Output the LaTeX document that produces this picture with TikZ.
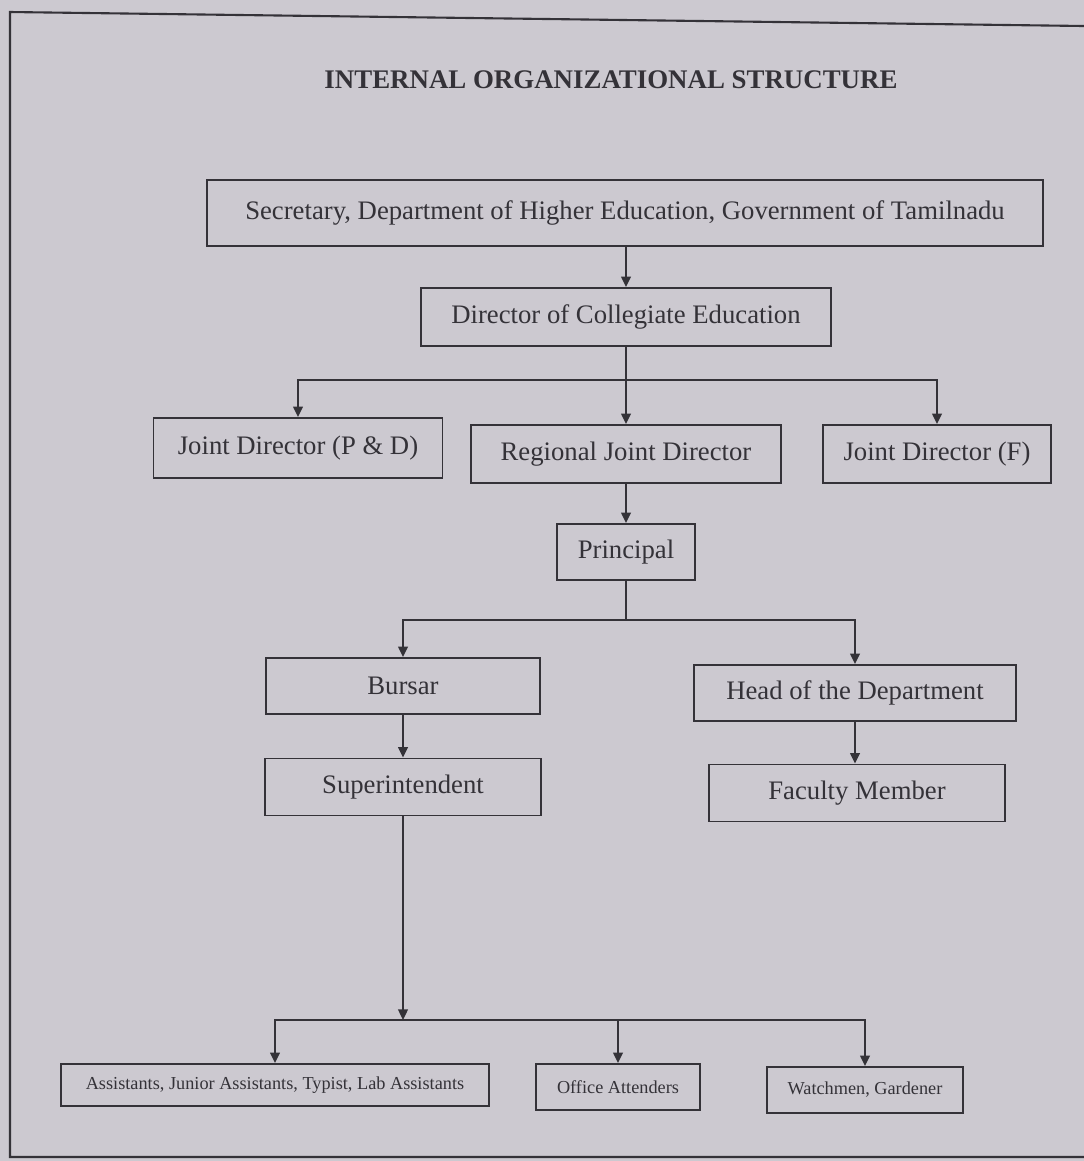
\documentclass[tikz,border=0pt]{standalone}
\usepackage{fontspec}
\setmainfont{Liberation Serif}
\usetikzlibrary{arrows.meta}
\definecolor{paper}{RGB}{204,201,208}
\definecolor{ink}{RGB}{52,50,56}
\tikzset{
  box/.style={draw=ink, line width=1.1pt, inner sep=0pt, text=ink, font=\fontsize{15.2}{18}\selectfont},
  smallbox/.style={box, font=\fontsize{10.4}{12}\selectfont},
  link/.style={draw=ink, line width=1.1pt},
  arr/.style={link, -{Triangle[length=6pt,width=5.5pt]}},
}

\begin{document}
\begin{tikzpicture}[x=0.02cm, y=-0.02cm]
\fill[paper] (0,0) rectangle (1084,1161);
\useasboundingbox (0,0) rectangle (1084,1161);
% page frame
\draw[ink, line width=1.2pt] (1084,26) -- (10,12) -- (10,1157) -- (1084,1157);

\node[text=ink, font=\fontsize{15.3}{18}\selectfont\bfseries] (title) at (611,80) {INTERNAL ORGANIZATIONAL STRUCTURE};

\node[box, minimum width=16.74cm, minimum height=1.32cm] (sec) at (625,213) {Secretary, Department of Higher Education, Government of Tamilnadu};
\node[box, minimum width=8.22cm, minimum height=1.16cm] (dir) at (626,317) {Director of Collegiate Education};

\node[box, minimum width=5.78cm, minimum height=1.2cm] (jdpd) at (298,448) {Joint Director (P \& D)};
\node[box, minimum width=6.2cm, minimum height=1.16cm] (rjd) at (626,454) {Regional Joint Director};
\node[box, minimum width=4.56cm, minimum height=1.16cm] (jdf) at (937,454) {Joint Director (F)};

\node[box, minimum width=2.76cm, minimum height=1.12cm] (prin) at (626,552) {Principal};

\node[box, minimum width=5.48cm, minimum height=1.12cm] (burs) at (403,686) {Bursar};
\node[box, minimum width=6.44cm, minimum height=1.12cm] (hod) at (855,693) {Head of the Department};
\node[box, minimum width=5.52cm, minimum height=1.14cm] (supt) at (403,787) {Superintendent};
\node[box, minimum width=5.92cm, minimum height=1.14cm] (fac) at (857,793) {Faculty Member};

\node[smallbox, minimum width=8.56cm, minimum height=0.84cm] (asst) at (275,1085) {Assistants, Junior Assistants, Typist, Lab Assistants};
\node[smallbox, minimum width=3.28cm, minimum height=0.92cm] (off) at (618,1087) {Office Attenders};
\node[smallbox, minimum width=3.92cm, minimum height=0.92cm] (watch) at (865,1090) {Watchmen, Gardener};

% top levels
\draw[arr] (dir.north |- sec.south) -- (dir.north);
\coordinate (split1) at (626,380);
\draw[link] (dir.south) -- (split1);
\draw[arr] (split1) -- (rjd.north);
\draw[arr] (split1) -| (jdpd.north);
\draw[arr] (split1) -| (jdf.north);

% college
\draw[arr] (rjd.south) -- (prin.north);
\coordinate (split2) at (626,620);
\draw[link] (prin.south) -- (split2);
\draw[arr] (split2) -| (burs.north);
\draw[arr] (split2) -| (hod.north);
\draw[arr] (burs.south) -- (supt.north);
\draw[arr] (hod.south) -- (hod.south |- fac.north);

% office staff
\coordinate (split3) at (403,1020);
\draw[arr] (supt.south) -- (split3);
\draw[arr] (split3) -| (asst.north);
\draw[arr] (split3) -| (off.north);
\draw[arr] (split3) -| (watch.north);
\end{tikzpicture}
\end{document}
